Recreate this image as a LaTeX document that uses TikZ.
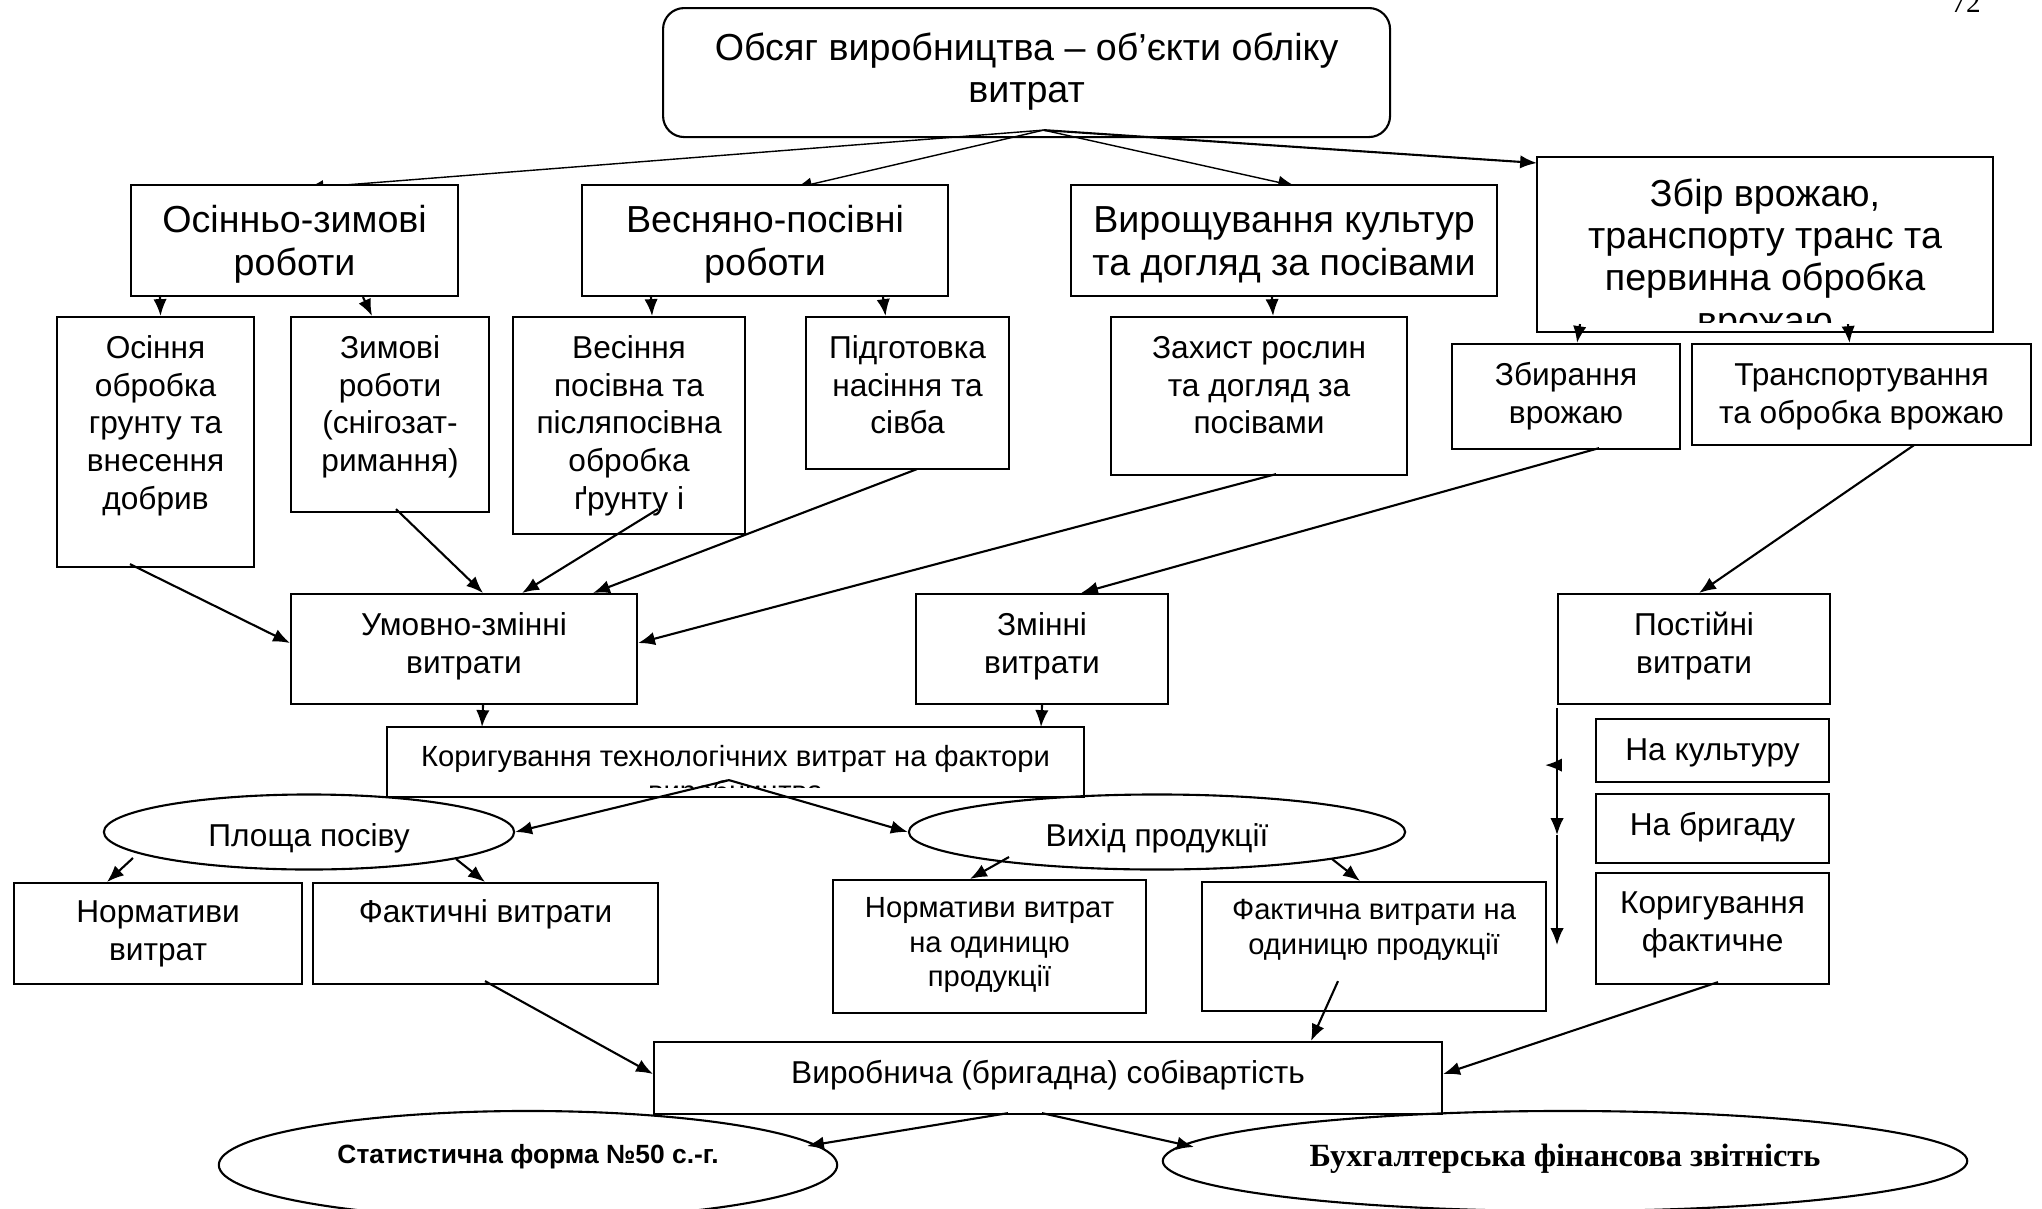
\documentclass[tikz,border=0pt]{standalone}
\usepackage{fontspec}
\setmainfont{Liberation Sans}
\newfontfamily\timesfont{Liberation Serif}
\usetikzlibrary{shapes.geometric,arrows.meta,calc,backgrounds}

\newdimen\pxu \pxu=0.01cm
% text box: [top inset]{width}{height}{text}, text at the top
\newcommand{\tbox}[4][4.3pt]{\parbox[c][#3\pxu][t]{#2\pxu}{\centering\vspace*{#1}\strut#4}}

\begin{document}
\begin{tikzpicture}[x=0.01cm,y=-0.01cm,line width=0.6pt,
  box/.style={draw,fill=white,inner sep=0pt,anchor=north west},
  oval/.style={draw,ellipse,inner sep=0pt},
  arr/.style={-{Latex[length=4.8pt,width=3.8pt]}},
  big/.style={font=\fontsize{10.7}{12}\selectfont},
  mid/.style={font=\fontsize{9}{10.7}\selectfont},
  sml/.style={font=\fontsize{8.3}{9.8}\selectfont}]

\useasboundingbox (0,0) rectangle (2042,1209);

% page number
\node[font=\timesfont\fontsize{8.3}{10}\selectfont,anchor=base] (pg) at (1966,12) {72};

% volume
\node[box,big,fill=none,rounded corners=6pt] (top) at (662,7) {\tbox[6.4pt]{727}{129}{Обсяг виробництва – об’єкти обліку\\витрат}};

% works
\node[box,big] (oz) at (130,184) {\tbox[5.2pt]{327}{111}{Осінньо-зимові\\роботи}};
\node[box,big] (vp) at (581,184) {\tbox[5.2pt]{366}{111}{Весняно-посівні\\роботи}};
\node[box,big] (vk) at (1070,184) {\tbox[5.2pt]{426}{111}{Вирощування культур\\та догляд за посівами}};
\begin{scope}
\clip (1530,150) rectangle (2000,322);
\node[box,big,draw=none] (zv) at (1537,157) {\tbox[5.4pt]{454}{173}{Збір врожаю,\\транспорту транс та\\первинна обробка\\врожаю}};
\end{scope}
\draw (zv.north west) rectangle (zv.south east);

% operations
\node[box,mid] (osin) at (56,316) {\tbox{197}{250}{Осіння\\обробка\\грунту та\\внесення\\добрив}};
\node[box,mid] (zym) at (290,316) {\tbox{198}{195}{Зимові\\роботи\\(снігозат-\\римання)}};
\node[box,mid] (ves) at (512,316) {\tbox{232}{217}{Весіння\\посівна та\\післяпосівна\\обробка\\ґрунту і}};
\node[box,mid] (pid) at (805,316) {\tbox{203}{152}{Підготовка\\насіння та\\сівба}};
\node[box,mid] (zah) at (1110,316) {\tbox{296}{158}{Захист рослин\\та догляд за\\посівами}};
\node[box,mid] (zbyr) at (1451,343) {\tbox{228}{105}{Збирання\\врожаю}};
\node[box,mid] (tran) at (1691,343) {\tbox{339}{101}{Транспортування\\та обробка врожаю}};

% costs
\node[box,mid] (umz) at (290,593) {\tbox{346}{110}{Умовно-змінні\\витрати}};
\node[box,mid] (zmin) at (915,593) {\tbox{252}{110}{Змінні\\витрати}};
\node[box,mid] (post) at (1557,593) {\tbox{272}{110}{Постійні\\витрати}};

% correction
\begin{scope}
\clip (380,720) rectangle (1090,787);
\node[box,sml,draw=none] (kor) at (387,727) {\tbox[4.2pt]{695}{68}{Коригування технологічних витрат на фактори\\виробництва}};
\end{scope}
\draw (kor.north west) rectangle (kor.south east);

% factors
\node[oval,mid,minimum width=4.1cm,minimum height=0.75cm,text height=8pt,text depth=0pt] (plo) at (309,832) {Площа посіву};
\node[oval,mid,minimum width=4.96cm,minimum height=0.75cm,text height=8pt,text depth=0pt] (vyh) at (1157,832) {Вихід продукції};

% norms and actual
\node[box,mid] (nv) at (13,882) {\tbox[3.8pt]{288}{101}{Нормативи\\витрат}};
\node[box,mid] (fv) at (312,882) {\tbox[3.8pt]{345}{101}{Фактичні витрати}};
\node[box,sml] (nod) at (832,879) {\tbox[3.9pt]{313}{133}{Нормативи витрат\\на одиницю\\продукції}};
\node[box,sml] (fod) at (1201,881) {\tbox[3.9pt]{344}{129}{Фактична витрати на\\одиницю продукції}};

% fixed cost shares
\node[box,mid] (nk) at (1595,718) {\tbox{233}{63}{На культуру}};
\node[box,mid] (nb) at (1595,793) {\tbox{233}{69}{На бригаду}};
\node[box,mid] (kf) at (1595,872) {\tbox[4pt]{233}{111}{Коригування\\фактичне}};

% cost price
\node[box,mid] (vs) at (653,1041) {\tbox{788}{72}{Виробнича (бригадна) собівартість}};

% reports
\node[oval,minimum width=6.18cm,minimum height=1.08cm,font=\bfseries\fontsize{7.5}{9}\selectfont,text height=6pt,text depth=7.1pt] (stat) at (528,1165) {Статистична форма №50 с.-г.};
\node[oval,minimum width=8.04cm,minimum height=1cm,font=\timesfont\bfseries\fontsize{9.2}{11}\selectfont,text height=7pt,text depth=4.15pt] (buh) at (1565,1161) {Бухгалтерська фінансова звітність};

% arrows from the top
\coordinate (tp) at ($(top.south)+(17,-8)$);
\begin{scope}[on background layer]
\draw[arr] (tp) -- ($(oz.north)+(12,4)$);
\draw[arr] (tp) -- ($(vp.north)+(30,4)$);
\draw[arr] (tp) -- ($(vk.north)+(11,2)$);
\end{scope}
\draw[arr] (tp) -- ($(zv.north west)+(0,6)$);

% works -> operations
\draw[arr] ($(oz.south west)+(30,0)$) -- ($(osin.north)+(5,0)$);
\draw[arr] ($(oz.south west)+(233,0)$) -- ($(zym.north)+(-18,0)$);
\draw[arr] ($(vp.south west)+(70,0)$) -- ($(ves.north)+(23,0)$);
\draw[arr] ($(vp.south west)+(302,0)$) -- ($(pid.north)+(-22,0)$);
\draw[arr] ($(vk.south west)+(202,0)$) -- ($(zah.north)+(14,0)$);
\draw[arr] ($(zv.south west)+(43,-8)$) -- ($(zbyr.north)+(11,0)$);
\draw[arr] ($(zv.south west)+(311,-8)$) -- ($(tran.north)+(-12,0)$);

% operations -> costs
\draw[arr] ($(osin.south west)+(74,-4)$) -- ($(umz.west)+(0,-6)$);
\draw[arr] ($(zym.south west)+(106,-4)$) -- ($(umz.north)+(19,0)$);
\draw[arr] ($(ves.south west)+(146,-26)$) -- ($(umz.north)+(58,0)$);
\draw[arr] ($(pid.south west)+(112,-1)$) -- ($(umz.north)+(129,0)$);
\draw[arr] ($(zah.south west)+(166,-2)$) -- ($(umz.east)+(0,-6)$);
\draw[arr] ($(zbyr.south west)+(148,-2)$) -- ($(zmin.north)+(39,0)$);
\draw[arr] ($(tran.south west)+(223,-1)$) -- ($(post.north)+(5,0)$);

% costs -> correction
\draw[arr] ($(umz.south)+(19,0)$) -- ($(kor.north west)+(95,0)$);
\draw[arr] (zmin.south) -- ($(kor.north west)+(654,0)$);
\coordinate (kp) at ($(kor.south west)+(342,-17)$);
\draw[arr] (kp) -- (plo.east);
\draw[arr] (kp) -- (vyh.west);

% factors -> norms
\draw[arr] ($(plo.center)+(-176,26)$) -- ($(nv.north west)+(94,0)$);
\draw[arr] ($(plo.center)+(147,27)$) -- ($(fv.north west)+(173,0)$);
\draw[arr] ($(vyh.center)+(-148,25)$) -- ($(nod.north west)+(138,0)$);
\draw[arr] ($(vyh.center)+(175,27)$) -- ($(fod.north west)+(159,0)$);

% fixed costs line
\draw[arr] ($(post.south west)+(0,3)$) -- ($(post.south west)+(0,130)$);
\draw[arr] ($(post.south west)+(0,130)$) -- ($(post.south west)+(0,240)$);
\draw[arr] ($(post.south west)+(2,60)$) -- ($(post.south west)+(-12,60)$);

% -> cost price
\draw[arr] ($(fv.south west)+(173,-4)$) -- ($(vs.west)+(0,-4)$);
\draw[arr] ($(fod.south west)+(137,-31)$) -- ($(vs.north west)+(658,0)$);
\draw[arr] ($(kf.south west)+(123,-3)$) -- ($(vs.east)+(0,-4)$);

% cost price -> reports
\draw[arr] ($(vs.south west)+(355,-2)$) -- ($(stat.center)+(279,-19)$);
\draw[arr] ($(vs.south west)+(389,-2)$) -- ($(buh.center)+(-371,-14)$);

\end{tikzpicture}
\end{document}
